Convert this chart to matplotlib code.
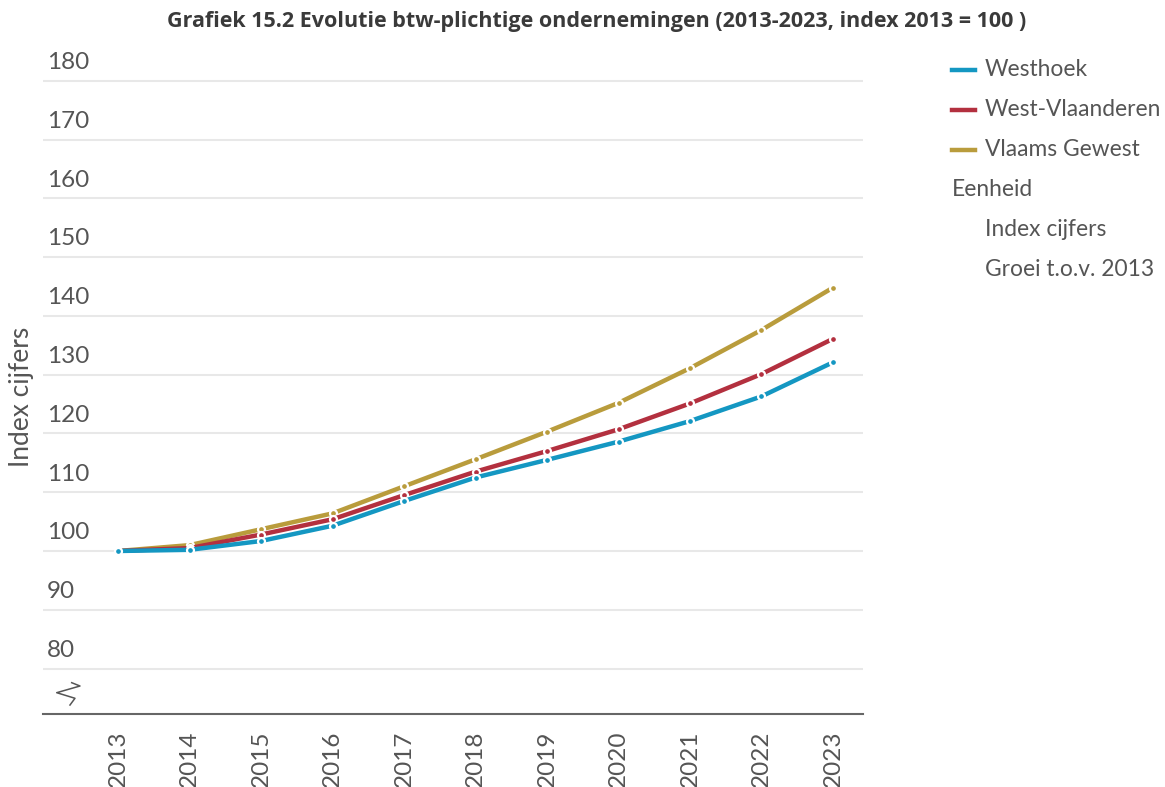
import matplotlib
matplotlib.use("Agg")
import matplotlib.pyplot as plt
from matplotlib.lines import Line2D

plt.rcParams['font.family'] = ['Lato', 'DejaVu Sans']

years = [2013, 2014, 2015, 2016, 2017, 2018, 2019, 2020, 2021, 2022, 2023]
westhoek = [100.0, 100.2, 101.7, 104.3, 108.5, 112.5, 115.5, 118.6, 122.1, 126.3, 132.1]
west_vlaanderen = [100.0, 100.5, 102.8, 105.4, 109.5, 113.5, 117.0, 120.7, 125.1, 130.1, 136.1]
vlaams_gewest = [100.0, 101.0, 103.7, 106.4, 111.0, 115.6, 120.3, 125.2, 131.1, 137.6, 144.8]
series_names = ["Westhoek", "West-Vlaanderen", "Vlaams Gewest"]
series_colors = ["#1497c2", "#b3303f", "#b99c3c"]
y_ticks = [80, 90, 100, 110, 120, 130, 140, 150, 160, 170, 180]
title = "Grafiek 15.2 Evolutie btw-plichtige ondernemingen (2013-2023, index 2013 = 100 )"
y_label = "Index cijfers"
unit_header = "Eenheid"
unit_items = ["Index cijfers", "Groei t.o.v. 2013"]

W, H = 1165, 787
fig = plt.figure(figsize=(W / 100, H / 100), dpi=100)
ax = fig.add_axes([43 / W, 1 - 714 / H, (863 - 43) / W, (714 - 77.8) / H])

ax.set_xlim(2011.95, 2023.42)
ax.set_ylim(72.27, 180.5)

txt = "#555555"
for yt in y_ticks:
    ax.axhline(yt, color="#e8e8e8", lw=1.5, zorder=0)
    ax.text(0.005, yt + 1.3, str(yt), transform=ax.get_yaxis_transform(),
            ha="left", va="bottom", fontsize=17.5, color=txt)

data = [westhoek, west_vlaanderen, vlaams_gewest]
# draw order: Vlaams (back), West-Vl, Westhoek (front)
for i in [2, 1, 0]:
    ax.plot(years, data[i], color=series_colors[i], lw=3.2, solid_capstyle="round",
            marker="o", markersize=5, markerfacecolor=series_colors[i],
            markeredgecolor="white", markeredgewidth=1.6, zorder=5 - i)

ax.set_yticks([])
ax.set_xticks(years)
ax.set_xticklabels([str(y) for y in years], rotation=90, fontsize=17.5, color=txt)
ax.tick_params(axis="x", length=0, pad=12)
for s in ["top", "right", "left"]:
    ax.spines[s].set_visible(False)
ax.spines["bottom"].set_color("#666666")
ax.spines["bottom"].set_linewidth(1.5)

# axis break symbol (decoration)
ax.plot([0.035, 0.0451, 0.0167, 0.0390, 0.0329],
        [0.0492, 0.0440, 0.0335, 0.0247, 0.0141],
        transform=ax.transAxes, color="#555555", lw=1.1, clip_on=False)

fig.text(21 / W, 1 - 397 / H, y_label, rotation=90, ha="center", va="center",
         fontsize=19, color=txt)

fig.text(597 / W, 1 - 22 / H, title, ha="center", va="center", fontsize=15.5,
         fontweight="bold", color="#3a3a3a", family=["Open Sans", "DejaVu Sans"])

# legend
for k, (name, col) in enumerate(zip(series_names, series_colors)):
    yy = 1 - (70 + 40 * k) / H
    fig.add_artist(Line2D([952 / W, 975 / W], [yy, yy], color=col, lw=3.2,
                          transform=fig.transFigure))
    fig.text(985 / W, yy, name, ha="left", va="center", fontsize=16.4, color=txt)
fig.text(952 / W, 1 - 190 / H, unit_header, ha="left", va="center", fontsize=16.4, color=txt)
for k, item in enumerate(unit_items):
    fig.text(985 / W, 1 - (230 + 40 * k) / H, item, ha="left", va="center",
             fontsize=16.4, color=txt)

fig.savefig("out.png", dpi=100, facecolor="white")
